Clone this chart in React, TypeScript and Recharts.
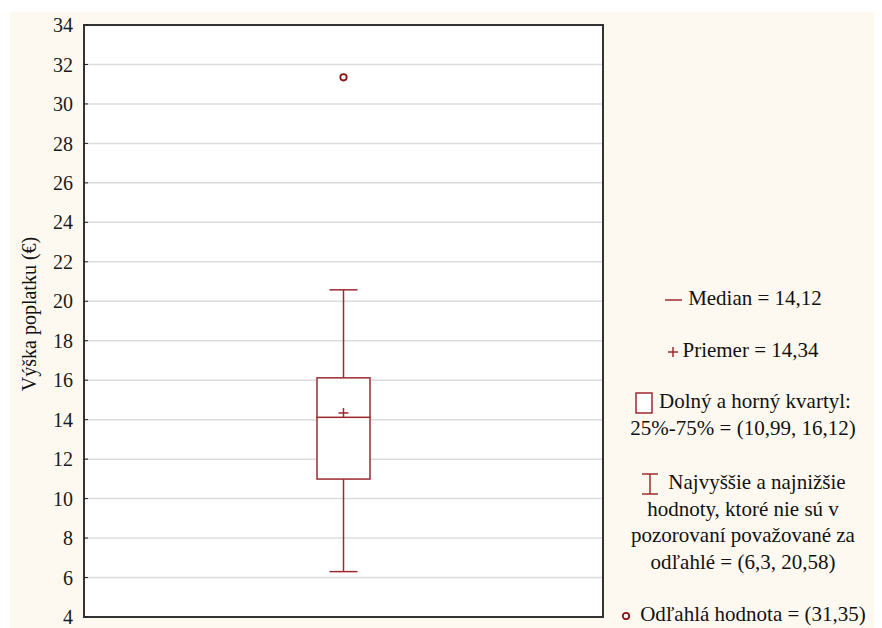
import React from 'react';
import {
  ComposedChart,
  Bar,
  Scatter,
  XAxis,
  YAxis,
  CartesianGrid,
  ReferenceArea,
  Label,
} from 'recharts';

// hodnoty boxplotu
const categories = ['Výška poplatku'];
const whiskerLow = [6.3];
const quartileLow = [10.99];
const medians = [14.12];
const quartileHigh = [16.12];
const whiskerHigh = [20.58];
const means = [14.34];
const outliers = [31.35];
const yTicks = [4, 6, 8, 10, 12, 14, 16, 18, 20, 22, 24, 26, 28, 30, 32, 34];

const RED = '#9e2a30';
const FONT = 'Liberation Serif, DejaVu Serif, serif';

const chartData = categories.map((name, i) => ({
  name,
  base: whiskerLow[i],
  lowWhisker: quartileLow[i] - whiskerLow[i],
  boxLow: medians[i] - quartileLow[i],
  boxHigh: quartileHigh[i] - medians[i],
  highWhisker: whiskerHigh[i] - quartileHigh[i],
  mean: means[i],
  outlier: outliers[i],
}));

const CAP = 14;

const LowWhiskerShape = (p: any) => {
  const cx = p.x + p.width / 2;
  return (
    <g>
      <line x1={cx} x2={cx} y1={p.y} y2={p.y + p.height} stroke={RED} strokeWidth={1.5} />
      <line x1={cx - CAP} x2={cx + CAP} y1={p.y + p.height} y2={p.y + p.height} stroke={RED} strokeWidth={1.5} />
    </g>
  );
};

const HighWhiskerShape = (p: any) => {
  const cx = p.x + p.width / 2;
  return (
    <g>
      <line x1={cx} x2={cx} y1={p.y} y2={p.y + p.height} stroke={RED} strokeWidth={1.5} />
      <line x1={cx - CAP} x2={cx + CAP} y1={p.y} y2={p.y} stroke={RED} strokeWidth={1.5} />
    </g>
  );
};

const BoxShape = (p: any) => (
  <rect x={p.x} y={p.y} width={p.width} height={p.height} fill="#fff" stroke={RED} strokeWidth={1.5} />
);

const MeanShape = (p: any) => (
  <g>
    <line x1={p.cx - 5} x2={p.cx + 5} y1={p.cy} y2={p.cy} stroke={RED} strokeWidth={1.5} />
    <line x1={p.cx} x2={p.cx} y1={p.cy - 5} y2={p.cy + 5} stroke={RED} strokeWidth={1.5} />
  </g>
);

const OutlierShape = (p: any) => (
  <circle cx={p.cx} cy={p.cy} r={3.2} fill="#fff" stroke="#8b1515" strokeWidth={1.8} />
);

const legendText: React.CSSProperties = {
  position: 'absolute',
  left: 594,
  width: 278,
  textAlign: 'center',
  fontFamily: FONT,
  fontSize: 21,
  lineHeight: '26.5px',
  color: '#111',
};

const LegendBlock = () => (
  <>
    <div style={{ ...legendText, top: 273 }}>
      <svg width={20} height={10} style={{ marginRight: 4, verticalAlign: 'middle' }}>
        <line x1={1} x2={18} y1={5} y2={5} stroke={RED} strokeWidth={1.5} />
      </svg>
      Median = 14,12
    </div>
    <div style={{ ...legendText, top: 325 }}>
      <svg width={12} height={12} style={{ marginRight: 3, verticalAlign: 'middle' }}>
        <line x1={1} x2={11} y1={6} y2={6} stroke={RED} strokeWidth={1.5} />
        <line x1={6} x2={6} y1={1} y2={11} stroke={RED} strokeWidth={1.5} />
      </svg>
      Priemer = 14,34
    </div>
    <div style={{ ...legendText, top: 376 }}>
      <svg width={18} height={22} style={{ marginRight: 6, verticalAlign: 'middle' }}>
        <rect x={1} y={1} width={16} height={20} fill="#fff" stroke={RED} strokeWidth={1.5} />
      </svg>
      Dolný a horný kvartyl:
      <br />
      25%-75% = (10,99, 16,12)
    </div>
    <div style={{ ...legendText, top: 457 }}>
      <svg width={20} height={22} style={{ marginRight: 8, verticalAlign: 'middle' }}>
        <line x1={10} x2={10} y1={1} y2={21} stroke={RED} strokeWidth={1.5} />
        <line x1={2} x2={18} y1={1} y2={1} stroke={RED} strokeWidth={1.5} />
        <line x1={2} x2={18} y1={21} y2={21} stroke={RED} strokeWidth={1.5} />
      </svg>
      Najvyššie a najnižšie
      <br />
      hodnoty, ktoré nie sú v
      <br />
      pozorovaní považované za
      <br />
      odľahlé = (6,3, 20,58)
    </div>
    <div style={{ ...legendText, top: 589 }}>
      <svg width={12} height={12} style={{ marginRight: 8, verticalAlign: 'middle' }}>
        <circle cx={6} cy={6} r={3.2} fill="none" stroke="#8b1515" strokeWidth={1.8} />
      </svg>
      Odľahlá hodnota = (31,35)
    </div>
  </>
);

const YLabel = (props: any) => {
  const vb = props.viewBox;
  const x = vb.x + 19;
  const y = vb.y + vb.height / 2 - 7;
  return (
    <text
      x={x}
      y={y}
      transform={`rotate(-90, ${x}, ${y})`}
      textAnchor="middle"
      dominantBaseline="central"
      fontFamily={FONT}
      fontSize={20}
      fill="#111"
    >
      Výška poplatku (€)
    </text>
  );
};

export default function App() {
  return (
    <div
      style={{
        position: 'relative',
        marginLeft: 2,
        marginTop: 4,
        width: 872,
        height: 616,
        background: '#fdf9f0',
      }}
    >
      <ComposedChart
        width={872}
        height={616}
        data={chartData}
        margin={{ top: 13, right: 279, bottom: 11, left: 0 }}
        barCategoryGap={0}
      >
        <CartesianGrid vertical={false} stroke="#dcdcdc" strokeWidth={1.5} fill="#fff" />
        <XAxis dataKey="name" type="category" hide />
        <YAxis
          type="number"
          domain={[4, 34]}
          ticks={yTicks}
          interval={0}
          allowDataOverflow
          width={74}
          axisLine={false}
          tickLine={{ stroke: '#222' }}
          tickSize={-4}
          tickMargin={15}
          tick={{ fontFamily: FONT, fontSize: 20, fill: '#1a1a1a' }}
        >
          <Label content={<YLabel />} />
        </YAxis>
        <YAxis
          yAxisId="right"
          orientation="right"
          type="number"
          domain={[4, 34]}
          ticks={yTicks}
          interval={0}
          allowDataOverflow
          width={0}
          axisLine={false}
          tickLine={{ stroke: '#222' }}
          tickSize={-4}
          tick={false}
        />
        <Bar dataKey="base" stackId="box" barSize={53} fill="none" shape={() => null} isAnimationActive={false} />
        <Bar dataKey="lowWhisker" stackId="box" barSize={53} shape={LowWhiskerShape} isAnimationActive={false} />
        <Bar dataKey="boxLow" stackId="box" barSize={53} shape={BoxShape} isAnimationActive={false} />
        <Bar dataKey="boxHigh" stackId="box" barSize={53} shape={BoxShape} isAnimationActive={false} />
        <Bar dataKey="highWhisker" stackId="box" barSize={53} shape={HighWhiskerShape} isAnimationActive={false} />
        <Scatter dataKey="mean" shape={MeanShape} isAnimationActive={false} />
        <Scatter dataKey="outlier" shape={OutlierShape} isAnimationActive={false} />
        <ReferenceArea y1={4} y2={34} fill="none" stroke="#333" strokeWidth={2} ifOverflow="visible" />
      </ComposedChart>
      <LegendBlock />
    </div>
  );
}
